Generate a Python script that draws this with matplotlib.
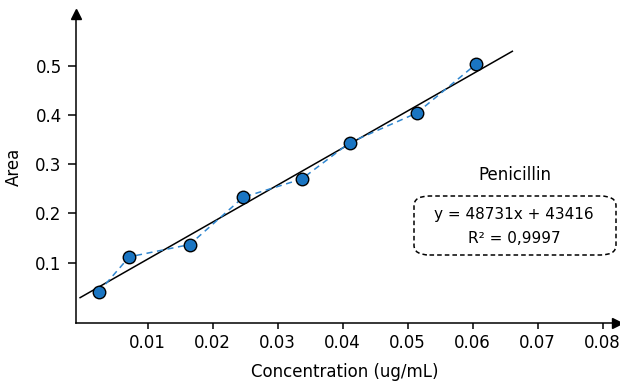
import numpy as np
import matplotlib.pyplot as plt
from matplotlib.patches import FancyBboxPatch

conc = [0.00246, 0.00717, 0.01646, 0.0247, 0.0337, 0.0411, 0.0514, 0.0605]
area = [0.0406, 0.112, 0.137, 0.233, 0.270, 0.344, 0.404, 0.503]
xticks = [0.01, 0.02, 0.03, 0.04, 0.05, 0.06, 0.07, 0.08]
yticks = [0.1, 0.2, 0.3, 0.4, 0.5]
fit_range = [-0.0004, 0.0661]

plt.rcParams['font.family'] = 'DejaVu Sans'

fig = plt.figure(figsize=(6.2, 3.88), dpi=100)
W, H = 620, 388
ax = fig.add_axes([76 / W, 1 - 322.7 / H, (617 - 76) / W, (322.7 - 14) / H])

slope, intercept = np.polyfit(conc, area, 1)
xf = np.array(fit_range)
ax.plot(xf, slope * xf + intercept, color='black', lw=1.1, zorder=2)
ax.plot(conc, area, color='#2f86cf', lw=1.1, ls=(0, (4, 3)), zorder=2)
ax.plot(conc, area, 'o', color='#1a75c2', markeredgecolor='black',
        markeredgewidth=1.0, markersize=9, zorder=3, ls='none')

ax.set_xlim(-0.00103, 0.0822)
ax.set_ylim(-0.0217, 0.605)
ax.set_xticks(xticks)
ax.set_xticklabels([f'{v:.2f}' for v in xticks])
ax.set_yticks(yticks)
ax.set_yticklabels([f'{v:.1f}' for v in yticks])
ax.tick_params(direction='out', width=1.1, labelsize=12)
ax.tick_params(axis='x', length=4.3, pad=4)
ax.tick_params(axis='y', length=5.8, pad=4.5)
for s in ['top', 'right']:
    ax.spines[s].set_visible(False)
for s in ['left', 'bottom']:
    ax.spines[s].set_linewidth(1.1)
ax.plot(1, 0, '>k', markersize=6.5, transform=ax.transAxes, clip_on=False)
ax.plot(0, 1, '^k', markersize=6.5, transform=ax.transAxes, clip_on=False)

fig.text(345 / W, 1 - 372 / H, 'Concentration (ug/mL)', ha='center', va='center', fontsize=12)
fig.text(14 / W, 1 - 167 / H, 'Area', ha='center', va='center', rotation=90, fontsize=12)

fig.text(515 / W, 1 - 175 / H, 'Penicillin', ha='center', va='center', fontsize=12)
box = FancyBboxPatch((414 / W, 1 - 255 / H), (616 - 414) / W, (255 - 196) / H,
                     boxstyle='round,pad=0,rounding_size=0.025',
                     transform=fig.transFigure, fill=False, edgecolor='black',
                     lw=1.1, ls=(0, (3, 2)))
fig.patches.append(box)
fig.text(514 / W, 1 - 215 / H, 'y = 48731x + 43416', ha='center', va='center', fontsize=11)
fig.text(514 / W, 1 - 238 / H, 'R² = 0,9997', ha='center', va='center', fontsize=11)

fig.savefig('out.png', dpi=100)
